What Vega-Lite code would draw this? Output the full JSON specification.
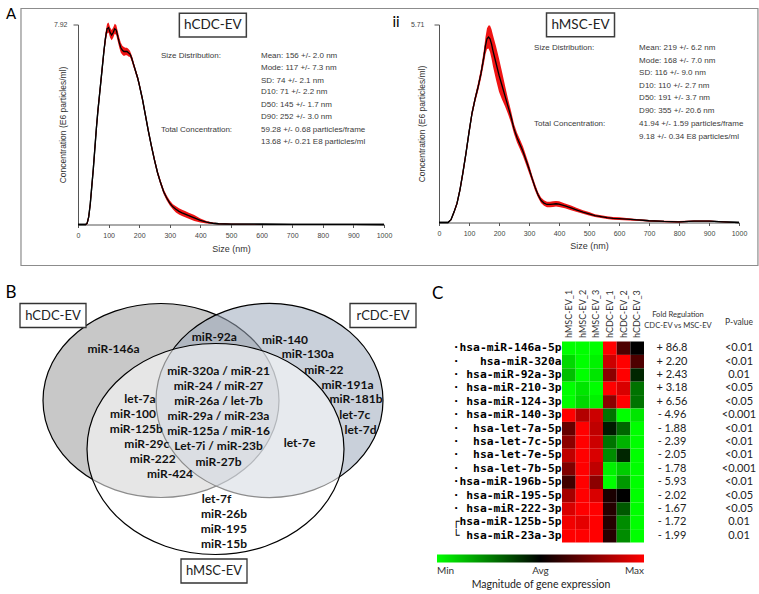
{
 "$schema": "https://vega.github.io/schema/vega-lite/v6.json",
 "background": "white",
 "padding": {"left": 5, "top": 6.5, "right": 0, "bottom": 0},
 "bounds": "flush",
 "spacing": 317,
 "config": {"view": {"stroke": null}, "axis": {"grid": false, "labelOverlap": false, "labelSeparation": 0}},
 "datasets": {
  "hcdc": [
   {"size":0,"conc":0,"lo":0,"hi":0},{"size":20,"conc":0,"lo":0,"hi":0},{"size":25,"conc":0,"lo":0,"hi":0.02},
   {"size":30,"conc":0.05,"lo":0,"hi":0.1},{"size":35,"conc":0.3,"lo":0.2,"hi":0.4},{"size":40,"conc":0.8,"lo":0.68,"hi":0.92},
   {"size":45,"conc":1.5,"lo":1.35,"hi":1.65},{"size":50,"conc":2.2,"lo":2.05,"hi":2.35},{"size":55,"conc":3.0,"lo":2.85,"hi":3.15},
   {"size":60,"conc":3.8,"lo":3.65,"hi":3.95},{"size":65,"conc":4.5,"lo":4.35,"hi":4.65},{"size":70,"conc":5.1,"lo":4.95,"hi":5.25},
   {"size":75,"conc":5.7,"lo":5.55,"hi":5.85},{"size":80,"conc":6.3,"lo":6.15,"hi":6.45},{"size":85,"conc":6.9,"lo":6.75,"hi":7.05},
   {"size":90,"conc":7.4,"lo":7.2,"hi":7.6},{"size":95,"conc":7.75,"lo":7.55,"hi":7.95},{"size":100,"conc":7.8,"lo":7.6,"hi":8.0},
   {"size":105,"conc":7.6,"lo":7.4,"hi":7.8},{"size":110,"conc":7.5,"lo":7.3,"hi":7.7},{"size":115,"conc":7.6,"lo":7.4,"hi":7.8},
   {"size":120,"conc":7.75,"lo":7.55,"hi":7.95},{"size":125,"conc":7.7,"lo":7.5,"hi":7.9},{"size":130,"conc":7.45,"lo":7.25,"hi":7.65},
   {"size":135,"conc":7.2,"lo":7.0,"hi":7.4},{"size":140,"conc":7.0,"lo":6.8,"hi":7.2},{"size":145,"conc":6.9,"lo":6.72,"hi":7.08},
   {"size":150,"conc":6.85,"lo":6.67,"hi":7.03},{"size":155,"conc":6.85,"lo":6.7,"hi":7.0},{"size":160,"conc":6.85,"lo":6.7,"hi":7.0},
   {"size":165,"conc":6.8,"lo":6.65,"hi":6.95},{"size":170,"conc":6.75,"lo":6.63,"hi":6.87},{"size":175,"conc":6.6,"lo":6.48,"hi":6.72},
   {"size":180,"conc":6.4,"lo":6.28,"hi":6.52},{"size":185,"conc":6.2,"lo":6.1,"hi":6.3},{"size":190,"conc":6.0,"lo":5.9,"hi":6.1},
   {"size":195,"conc":5.8,"lo":5.7,"hi":5.9},{"size":200,"conc":5.55,"lo":5.45,"hi":5.65},{"size":210,"conc":5.0,"lo":4.9,"hi":5.1},
   {"size":220,"conc":4.35,"lo":4.25,"hi":4.45},{"size":230,"conc":3.7,"lo":3.6,"hi":3.8},{"size":240,"conc":3.1,"lo":3.0,"hi":3.2},
   {"size":250,"conc":2.55,"lo":2.45,"hi":2.65},{"size":260,"conc":2.05,"lo":1.95,"hi":2.15},{"size":270,"conc":1.65,"lo":1.55,"hi":1.75},
   {"size":280,"conc":1.3,"lo":1.2,"hi":1.4},{"size":290,"conc":1.05,"lo":0.95,"hi":1.15},{"size":300,"conc":0.85,"lo":0.75,"hi":0.95},
   {"size":310,"conc":0.7,"lo":0.6,"hi":0.8},{"size":320,"conc":0.6,"lo":0.48,"hi":0.72},{"size":330,"conc":0.52,"lo":0.4,"hi":0.64},
   {"size":340,"conc":0.46,"lo":0.34,"hi":0.58},{"size":350,"conc":0.41,"lo":0.29,"hi":0.53},{"size":360,"conc":0.36,"lo":0.24,"hi":0.48},
   {"size":370,"conc":0.31,"lo":0.19,"hi":0.43},{"size":380,"conc":0.26,"lo":0.14,"hi":0.38},{"size":390,"conc":0.21,"lo":0.11,"hi":0.31},
   {"size":400,"conc":0.16,"lo":0.08,"hi":0.24},{"size":420,"conc":0.09,"lo":0.04,"hi":0.14},{"size":440,"conc":0.05,"lo":0.02,"hi":0.08},
   {"size":460,"conc":0.03,"lo":0.01,"hi":0.05},{"size":500,"conc":0.015,"lo":0.005,"hi":0.025},{"size":600,"conc":0.01,"lo":0,"hi":0.02},
   {"size":700,"conc":0.005,"lo":0,"hi":0.01},{"size":800,"conc":0.005,"lo":0,"hi":0.01},{"size":900,"conc":0.003,"lo":0,"hi":0.006},
   {"size":1000,"conc":0,"lo":0,"hi":0}
  ],
  "hmsc": [
   {"size":0,"conc":0,"lo":0,"hi":0},{"size":30,"conc":0,"lo":0,"hi":0},{"size":40,"conc":0.08,"lo":0.06,"hi":0.1},
   {"size":50,"conc":0.3,"lo":0.26,"hi":0.34},{"size":60,"conc":0.55,"lo":0.49,"hi":0.61},{"size":70,"conc":0.95,"lo":0.87,"hi":1.03},
   {"size":80,"conc":1.45,"lo":1.35,"hi":1.55},{"size":90,"conc":2.0,"lo":1.9,"hi":2.1},{"size":100,"conc":2.6,"lo":2.5,"hi":2.7},
   {"size":110,"conc":3.15,"lo":3.05,"hi":3.25},{"size":120,"conc":3.55,"lo":3.45,"hi":3.65},{"size":130,"conc":3.9,"lo":3.78,"hi":4.02},
   {"size":140,"conc":4.3,"lo":4.15,"hi":4.45},{"size":150,"conc":4.8,"lo":4.6,"hi":5.0},{"size":155,"conc":5.1,"lo":4.85,"hi":5.35},
   {"size":160,"conc":5.3,"lo":5.0,"hi":5.6},{"size":165,"conc":5.35,"lo":5.02,"hi":5.68},{"size":170,"conc":5.3,"lo":4.92,"hi":5.68},
   {"size":175,"conc":5.15,"lo":4.73,"hi":5.57},{"size":180,"conc":4.95,"lo":4.5,"hi":5.4},{"size":190,"conc":4.6,"lo":4.12,"hi":5.08},
   {"size":200,"conc":4.25,"lo":3.77,"hi":4.73},{"size":210,"conc":3.95,"lo":3.55,"hi":4.35},{"size":220,"conc":3.65,"lo":3.35,"hi":3.95},
   {"size":230,"conc":3.35,"lo":3.13,"hi":3.57},{"size":240,"conc":3.05,"lo":2.88,"hi":3.22},{"size":250,"conc":2.7,"lo":2.56,"hi":2.84},
   {"size":260,"conc":2.45,"lo":2.31,"hi":2.59},{"size":270,"conc":2.25,"lo":2.11,"hi":2.39},{"size":280,"conc":2.05,"lo":1.91,"hi":2.19},
   {"size":290,"conc":1.8,"lo":1.67,"hi":1.93},{"size":300,"conc":1.55,"lo":1.43,"hi":1.67},{"size":310,"conc":1.28,"lo":1.18,"hi":1.38},
   {"size":320,"conc":1.02,"lo":0.92,"hi":1.12},{"size":330,"conc":0.8,"lo":0.72,"hi":0.88},{"size":340,"conc":0.64,"lo":0.56,"hi":0.72},
   {"size":350,"conc":0.56,"lo":0.48,"hi":0.64},{"size":360,"conc":0.52,"lo":0.44,"hi":0.6},{"size":370,"conc":0.52,"lo":0.44,"hi":0.6},
   {"size":380,"conc":0.53,"lo":0.45,"hi":0.61},{"size":390,"conc":0.54,"lo":0.46,"hi":0.62},{"size":400,"conc":0.53,"lo":0.45,"hi":0.61},
   {"size":420,"conc":0.48,"lo":0.41,"hi":0.55},{"size":440,"conc":0.42,"lo":0.35,"hi":0.49},{"size":460,"conc":0.36,"lo":0.3,"hi":0.42},
   {"size":480,"conc":0.3,"lo":0.25,"hi":0.35},{"size":500,"conc":0.25,"lo":0.2,"hi":0.3},{"size":520,"conc":0.2,"lo":0.16,"hi":0.24},
   {"size":540,"conc":0.17,"lo":0.13,"hi":0.21},{"size":560,"conc":0.14,"lo":0.1,"hi":0.18},{"size":580,"conc":0.12,"lo":0.08,"hi":0.16},
   {"size":600,"conc":0.11,"lo":0.07,"hi":0.15},{"size":650,"conc":0.08,"lo":0.05,"hi":0.11},{"size":700,"conc":0.05,"lo":0.03,"hi":0.07},
   {"size":750,"conc":0.03,"lo":0.01,"hi":0.05},{"size":800,"conc":0.02,"lo":0,"hi":0.04},{"size":850,"conc":0.04,"lo":0.02,"hi":0.06},
   {"size":900,"conc":0.04,"lo":0.02,"hi":0.06},{"size":950,"conc":0.02,"lo":0.01,"hi":0.03},{"size":1000,"conc":0,"lo":0,"hi":0}
  ],
  "annoHCDC": [
   {"size":271,"conc":6.69,"label":"Size Distribution:"},
   {"size":598,"conc":6.69,"label":"Mean: 156 +/- 2.0 nm"},
   {"size":598,"conc":6.19,"label":"Mode: 117 +/- 7.3 nm"},
   {"size":598,"conc":5.70,"label":"SD:   74 +/- 2.1 nm"},
   {"size":598,"conc":5.23,"label":"D10:  71 +/- 2.2 nm"},
   {"size":598,"conc":4.72,"label":"D50:   145 +/- 1.7 nm"},
   {"size":598,"conc":4.24,"label":"D90:  252 +/- 3.0 nm"},
   {"size":271,"conc":3.75,"label":"Total Concentration:"},
   {"size":598,"conc":3.75,"label":"59.28 +/- 0.68 particles/frame"},
   {"size":598,"conc":3.26,"label":"13.68 +/- 0.21 E8 particles/ml"}
  ],
  "annoHMSC": [
   {"size":317,"conc":5.04,"label":"Size Distribution:"},
   {"size":667,"conc":5.04,"label":"Mean: 219 +/- 6.2 nm"},
   {"size":667,"conc":4.67,"label":"Mode: 168 +/- 7.0 nm"},
   {"size":667,"conc":4.31,"label":"SD:   116 +/- 9.0 nm"},
   {"size":667,"conc":3.94,"label":"D10:   110 +/- 2.7 nm"},
   {"size":667,"conc":3.58,"label":"D50:   191 +/- 3.7 nm"},
   {"size":667,"conc":3.21,"label":"D90:   355 +/- 20.6 nm"},
   {"size":317,"conc":2.83,"label":"Total Concentration:"},
   {"size":667,"conc":2.83,"label":"41.94 +/- 1.59 particles/frame"},
   {"size":667,"conc":2.46,"label":"9.18 +/- 0.34 E8 particles/ml"}
  ],
  "genes": [
   {"gene":"hsa-miR-146a-5p","fold":"+ 86.8","p":"<0.01","hMSC-EV_1":-1,"hMSC-EV_2":-1,"hMSC-EV_3":-1,"hCDC-EV_1":1,"hCDC-EV_2":0.3,"hCDC-EV_3":0},
   {"gene":"hsa-miR-320a","fold":"+ 2.20","p":"<0.01","hMSC-EV_1":-0.85,"hMSC-EV_2":-1,"hMSC-EV_3":-0.95,"hCDC-EV_1":0.8,"hCDC-EV_2":1,"hCDC-EV_3":0.3},
   {"gene":"hsa-miR-92a-3p","fold":"+ 2.43","p":"0.01","hMSC-EV_1":-0.75,"hMSC-EV_2":-1,"hMSC-EV_3":-0.9,"hCDC-EV_1":0.55,"hCDC-EV_2":1,"hCDC-EV_3":-0.15},
   {"gene":"hsa-miR-210-3p","fold":"+ 3.18","p":"<0.05","hMSC-EV_1":-1,"hMSC-EV_2":-0.9,"hMSC-EV_3":-1,"hCDC-EV_1":1,"hCDC-EV_2":0.85,"hCDC-EV_3":-0.45},
   {"gene":"hsa-miR-124-3p","fold":"+ 6.56","p":"<0.05","hMSC-EV_1":-1,"hMSC-EV_2":-0.85,"hMSC-EV_3":-0.95,"hCDC-EV_1":0.55,"hCDC-EV_2":1,"hCDC-EV_3":-0.45},
   {"gene":"hsa-miR-140-3p","fold":"- 4.96","p":"<0.001","hMSC-EV_1":1,"hMSC-EV_2":0.7,"hMSC-EV_3":0.8,"hCDC-EV_1":-0.45,"hCDC-EV_2":-1,"hCDC-EV_3":-0.9},
   {"gene":"hsa-let-7a-5p","fold":"- 1.88","p":"<0.01","hMSC-EV_1":0.4,"hMSC-EV_2":1,"hMSC-EV_3":0.75,"hCDC-EV_1":-0.1,"hCDC-EV_2":-0.4,"hCDC-EV_3":-1},
   {"gene":"hsa-let-7c-5p","fold":"- 2.39","p":"<0.01","hMSC-EV_1":0.55,"hMSC-EV_2":1,"hMSC-EV_3":0.8,"hCDC-EV_1":-0.45,"hCDC-EV_2":-0.7,"hCDC-EV_3":-1},
   {"gene":"hsa-let-7e-5p","fold":"- 2.05","p":"<0.01","hMSC-EV_1":0.75,"hMSC-EV_2":1,"hMSC-EV_3":0.85,"hCDC-EV_1":-0.55,"hCDC-EV_2":-0.15,"hCDC-EV_3":-1},
   {"gene":"hsa-let-7b-5p","fold":"- 1.78","p":"<0.001","hMSC-EV_1":0.5,"hMSC-EV_2":1,"hMSC-EV_3":0.75,"hCDC-EV_1":-0.95,"hCDC-EV_2":-0.8,"hCDC-EV_3":-1},
   {"gene":"hsa-miR-196b-5p","fold":"- 5.93","p":"<0.01","hMSC-EV_1":0.25,"hMSC-EV_2":1,"hMSC-EV_3":0.55,"hCDC-EV_1":-1,"hCDC-EV_2":-0.6,"hCDC-EV_3":-1},
   {"gene":"hsa-miR-195-5p","fold":"- 2.02","p":"<0.05","hMSC-EV_1":0.65,"hMSC-EV_2":1,"hMSC-EV_3":0.85,"hCDC-EV_1":0.1,"hCDC-EV_2":0,"hCDC-EV_3":-1},
   {"gene":"hsa-miR-222-3p","fold":"- 1.67","p":"<0.05","hMSC-EV_1":0.85,"hMSC-EV_2":1,"hMSC-EV_3":1,"hCDC-EV_1":0.15,"hCDC-EV_2":-0.35,"hCDC-EV_3":-1},
   {"gene":"hsa-miR-125b-5p","fold":"- 1.72","p":"0.01","hMSC-EV_1":0.95,"hMSC-EV_2":0.9,"hMSC-EV_3":1,"hCDC-EV_1":0.15,"hCDC-EV_2":-0.55,"hCDC-EV_3":-1},
   {"gene":"hsa-miR-23a-3p","fold":"- 1.99","p":"0.01","hMSC-EV_1":1,"hMSC-EV_2":1,"hMSC-EV_3":1,"hCDC-EV_1":0.15,"hCDC-EV_2":-0.55,"hCDC-EV_3":-1}
  ],
  "vennSets": [
   {"set":"hCDC-EV","u":160,"v":120},
   {"set":"rCDC-EV","u":268.5,"v":120},
   {"set":"hMSC-EV","u":214.5,"v":168.5}
  ],
  "vennBoxes": [
   {"t":"hCDC-EV","u":52,"v":35},
   {"t":"rCDC-EV","u":382,"v":35},
   {"t":"hMSC-EV","u":213,"v":290.5}
  ],
  "vennLabels": [
   {"t":"miR-146a","u":112.5,"v":68.3},
   {"t":"miR-92a","u":213.3,"v":56.7},
   {"t":"miR-140","u":284,"v":59.3},
   {"t":"miR-130a","u":306.8,"v":73.7},
   {"t":"miR-22","u":322.8,"v":89},
   {"t":"miR-191a","u":346.5,"v":104},
   {"t":"miR-181b","u":355,"v":118.7},
   {"t":"let-7c","u":353.7,"v":134.3},
   {"t":"let-7d","u":359.5,"v":149.3},
   {"t":"miR-320a / miR-21","u":217.5,"v":90},
   {"t":"miR-24 / miR-27","u":217.5,"v":105.3},
   {"t":"miR-26a / let-7b","u":217.5,"v":120},
   {"t":"miR-29a / miR-23a","u":217.5,"v":135.3},
   {"t":"miR-125a / miR-16","u":217.5,"v":150.7},
   {"t":"Let-7i / miR-23b","u":217.5,"v":165.7},
   {"t":"miR-27b","u":217.5,"v":181},
   {"t":"let-7a","u":139,"v":118.3},
   {"t":"miR-100","u":132,"v":133.3},
   {"t":"miR-125b","u":135.3,"v":148.3},
   {"t":"miR-29c","u":145.8,"v":163.7},
   {"t":"miR-222","u":151.7,"v":178.7},
   {"t":"miR-424","u":169,"v":193.7},
   {"t":"let-7e","u":298.5,"v":162.3},
   {"t":"let-7f","u":215.5,"v":218.3},
   {"t":"miR-26b","u":223,"v":233},
   {"t":"miR-195","u":222.8,"v":248},
   {"t":"miR-15b","u":223,"v":263}
  ],
  "panelLetters": [
   {"t":"B","u":10,"v":12.5},
   {"t":"C","u":436.7,"v":13.5}
  ]
 },
 "vconcat": [
  {
   "bounds": "flush",
   "spacing": 55,
   "hconcat": [
    {
     "width": 306,
     "height": 200,
     "encoding": {
      "x": {"field": "size", "type": "quantitative",
       "scale": {"domain": [0, 1000], "nice": false, "zero": false},
       "axis": {"title": "Size (nm)", "values": [0,100,200,300,400,500,600,700,800,900,1000], "tickCount": 11, "format": "d",
        "labelFont": "Liberation Sans", "labelFontSize": 7, "labelColor": "#444", "labelPadding": 4, "labelFlush": false, "labelOverlap": false,
        "tickSize": 3, "tickColor": "#555", "domainColor": "#555",
        "titleFont": "Liberation Sans", "titleFontSize": 9, "titleFontWeight": "normal", "titleColor": "#333", "titlePadding": 6}},
      "y": {"field": "conc", "type": "quantitative",
       "scale": {"domain": [0, 7.92], "nice": false, "zero": false},
       "axis": {"title": "Concentration (E6 particles/ml)", "values": [7.92], "format": ".2f",
        "labelFont": "Liberation Sans", "labelFontSize": 7, "labelColor": "#444", "labelPadding": 6,
        "tickSize": 5, "tickColor": "#555", "domainColor": "#555",
        "titleFont": "Liberation Sans", "titleFontSize": 8.5, "titleFontWeight": "normal", "titleColor": "#333", "titlePadding": -14}}
     },
     "layer": [
      {
       "data": {"name": "hcdc"},
       "mark": {"type": "line", "color": "#000000", "strokeWidth": 1.3}
      },
      {
       "data": {"values": [{"size": -186.3, "size2": 2222, "conc": -1.624, "conc2": 8.554}]},
       "mark": {"type": "rect", "fill": "white", "fillOpacity": 0, "stroke": "#8c8c8c", "strokeWidth": 1.2},
       "encoding": {
        "x2": {"field": "size2"},
        "y2": {"field": "conc2"}
       }
      },
      {
       "data": {"name": "hcdc"},
       "mark": {"type": "area", "color": "#f01414"},
       "encoding": {
        "y": {"field": "lo", "type": "quantitative"},
        "y2": {"field": "hi"}
       }
      },
      {
       "data": {"name": "hcdc"},
       "mark": {"type": "line", "color": "#000000", "strokeWidth": 1.3}
      },
      {
       "data": {"name": "annoHCDC"},
       "mark": {"type": "text", "align": "left", "baseline": "middle", "font": "Liberation Sans", "fontSize": 8, "color": "#3a3a3a"},
       "encoding": {"text": {"field": "label"}}
      },
      {
       "data": {"values": [{"label": "hCDC-EV", "size": 440.7, "conc": 7.895}]},
       "mark": {"type": "point", "shape": "M-1,-0.358H1V0.358H-1Z", "size": 4489, "filled": true, "fill": "white", "stroke": "#3d3d3d", "strokeWidth": 1.5, "opacity": 1}
      },
      {
       "data": {"values": [{"label": "hCDC-EV", "size": 440.7, "conc": 7.895}]},
       "mark": {"type": "text", "font": "Lato", "fontSize": 13.5, "color": "#222", "baseline": "middle"},
       "encoding": {"text": {"field": "label"}}
      },
      {
       "data": {"values": [{"label": "A", "size": -235.3, "conc": 8.613}]},
       "mark": {"type": "text", "font": "Lato", "fontSize": 15, "color": "#000", "align": "left", "baseline": "top"},
       "encoding": {"text": {"field": "label"}}
      }
     ]
    },
    {
     "width": 300,
     "height": 198,
     "encoding": {
      "x": {"field": "size", "type": "quantitative",
       "scale": {"domain": [0, 1000], "nice": false, "zero": false},
       "axis": {"title": "Size (nm)", "values": [0,100,200,300,400,500,600,700,800,900,1000], "tickCount": 11, "format": "d",
        "labelFont": "Liberation Sans", "labelFontSize": 7, "labelColor": "#444", "labelPadding": 4, "labelFlush": false, "labelOverlap": false,
        "tickSize": 3, "tickColor": "#555", "domainColor": "#555",
        "titleFont": "Liberation Sans", "titleFontSize": 9, "titleFontWeight": "normal", "titleColor": "#333", "titlePadding": 5}},
      "y": {"field": "conc", "type": "quantitative",
       "scale": {"domain": [0, 5.71], "nice": false, "zero": false},
       "axis": {"title": "Concentration (E6 particles/ml)", "values": [5.71], "format": ".2f",
        "labelFont": "Liberation Sans", "labelFontSize": 7, "labelColor": "#444", "labelPadding": 10,
        "tickSize": 5, "tickColor": "#555", "domainColor": "#555",
        "titleFont": "Liberation Sans", "titleFontSize": 8.5, "titleFontWeight": "normal", "titleColor": "#333", "titlePadding": -16}}
     },
     "layer": [
      {
       "data": {"name": "hmsc"},
       "mark": {"type": "line", "color": "#000000", "strokeWidth": 1.3}
      },
      {
       "data": {"name": "hmsc"},
       "mark": {"type": "area", "color": "#f01414"},
       "encoding": {
        "y": {"field": "lo", "type": "quantitative"},
        "y2": {"field": "hi"}
       }
      },
      {
       "data": {"name": "hmsc"},
       "mark": {"type": "line", "color": "#000000", "strokeWidth": 1.3}
      },
      {
       "data": {"name": "annoHMSC"},
       "mark": {"type": "text", "align": "left", "baseline": "middle", "font": "Liberation Sans", "fontSize": 8, "color": "#3a3a3a"},
       "encoding": {"text": {"field": "label"}}
      },
      {
       "data": {"values": [{"label": "hMSC-EV", "size": 471.7, "conc": 5.70}]},
       "mark": {"type": "point", "shape": "M-1,-0.348H1V0.348H-1Z", "size": 4624, "filled": true, "fill": "white", "stroke": "#3d3d3d", "strokeWidth": 1.5, "opacity": 1}
      },
      {
       "data": {"values": [{"label": "hMSC-EV", "size": 471.7, "conc": 5.70}]},
       "mark": {"type": "text", "font": "Lato", "fontSize": 13.5, "color": "#222", "baseline": "middle"},
       "encoding": {"text": {"field": "label"}}
      },
      {
       "data": {"values": [{"label": "ii", "size": -143, "conc": 5.77}]},
       "mark": {"type": "text", "font": "Lato", "fontSize": 15, "color": "#000", "baseline": "middle"},
       "encoding": {"text": {"field": "label"}}
      }
     ]
    }
   ]
  },
  {
   "bounds": "flush",
   "spacing": 4,
   "hconcat": [
    {
     "width": 480,
     "height": 201,
     "encoding": {
      "x": {"field": "u", "type": "quantitative", "scale": {"domain": [77, 557], "nice": false, "zero": false}, "axis": null},
      "y": {"field": "v", "type": "quantitative", "scale": {"domain": [61, 262], "nice": false, "zero": false, "reverse": true}, "axis": null}
     },
     "layer": [
      {
       "data": {"name": "vennSets"},
       "transform": [{"filter": "datum.set == 'hCDC-EV'"}],
       "mark": {"type": "point", "shape": "M1,0C1,0.454 0.552,0.822 0,0.822C-0.552,0.822 -1,0.454 -1,0C-1,-0.454 -0.552,-0.822 0,-0.822C0.552,-0.822 1,-0.454 1,0Z", "size": 55696, "filled": true, "fill": "#c8c8c8", "stroke": "#000", "strokeWidth": 1.2, "opacity": 1}
      },
      {
       "data": {"name": "vennSets"},
       "transform": [{"filter": "datum.set == 'rCDC-EV'"}],
       "mark": {"type": "point", "shape": "M1,0C1,0.472 0.552,0.855 0,0.855C-0.552,0.855 -1,0.472 -1,0C-1,-0.472 -0.552,-0.855 0,-0.855C0.552,-0.855 1,-0.472 1,0Z", "size": 51529, "filled": true, "fill": "#9daabb", "fillOpacity": 0.55, "stroke": "#000", "strokeOpacity": 1, "strokeWidth": 1.2, "opacity": 1}
      },
      {
       "data": {"name": "vennSets"},
       "transform": [{"filter": "datum.set == 'hMSC-EV'"}],
       "mark": {"type": "point", "shape": "M1,0C1,0.453 0.552,0.821 0,0.821C-0.552,0.821 -1,0.453 -1,0C-1,-0.453 -0.552,-0.821 0,-0.821C0.552,-0.821 1,-0.453 1,0Z", "size": 66049, "filled": true, "fill": "#ffffff", "fillOpacity": 0.55, "stroke": "#000", "strokeOpacity": 1, "strokeWidth": 1.2, "opacity": 1}
      },
      {
       "data": {"name": "vennBoxes"},
       "mark": {"type": "point", "shape": "M-1,-0.364H1V0.364H-1Z", "size": 4356, "filled": true, "fill": "white", "stroke": "#333", "strokeWidth": 1.3, "opacity": 1}
      },
      {
       "data": {"name": "vennBoxes"},
       "mark": {"type": "text", "font": "Lato", "fontSize": 13, "color": "#222", "baseline": "middle"},
       "encoding": {"text": {"field": "t"}}
      },
      {
       "data": {"name": "vennLabels"},
       "mark": {"type": "text", "font": "Lato", "fontSize": 12, "fontWeight": "bold", "color": "#111", "baseline": "middle"},
       "encoding": {"text": {"field": "t"}}
      },
      {
       "data": {"name": "panelLetters"},
       "mark": {"type": "text", "font": "Lato", "fontSize": 17, "color": "#000", "baseline": "middle"},
       "encoding": {"text": {"field": "t"}}
      }
     ]
    },
    {
     "width": 82,
     "height": 201,
     "data": {"name": "genes"},
     "transform": [{"fold": ["hMSC-EV_1","hMSC-EV_2","hMSC-EV_3","hCDC-EV_1","hCDC-EV_2","hCDC-EV_3"], "as": ["sample", "value"]}],
     "mark": {"type": "rect"},
     "encoding": {
      "x": {"field": "sample", "type": "nominal",
       "sort": ["hMSC-EV_1","hMSC-EV_2","hMSC-EV_3","hCDC-EV_1","hCDC-EV_2","hCDC-EV_3"],
       "scale": {"paddingInner": 0, "paddingOuter": 0},
       "axis": {"orient": "top", "title": null, "labelAngle": -90, "domain": false, "ticks": false, "labelPadding": 4,
        "labelFont": "Lato", "labelFontSize": 9, "labelColor": "#333"}},
      "y": {"field": "gene", "type": "nominal",
       "sort": ["hsa-miR-146a-5p","hsa-miR-320a","hsa-miR-92a-3p","hsa-miR-210-3p","hsa-miR-124-3p","hsa-miR-140-3p","hsa-let-7a-5p","hsa-let-7c-5p","hsa-let-7e-5p","hsa-let-7b-5p","hsa-miR-196b-5p","hsa-miR-195-5p","hsa-miR-222-3p","hsa-miR-125b-5p","hsa-miR-23a-3p"],
       "scale": {"paddingInner": 0, "paddingOuter": 0},
       "axis": {"title": null, "domain": false, "ticks": false, "labelPadding": 1, "labelLimit": 300,
        "labelExpr": "(datum.value == 'hsa-miR-125b-5p' ? '┌' : (datum.value == 'hsa-miR-23a-3p' ? '└' : '·')) + pad(datum.label, 15, '\u00a0', 'left')",
        "labelFont": "DejaVu Sans Mono", "labelFontWeight": "bold", "labelFontSize": 11.3, "labelColor": "#000"}},
      "color": {"field": "value", "type": "quantitative",
       "scale": {"domain": [-1, 0, 1], "range": ["#00ff00", "#000000", "#ff0000"], "interpolate": "rgb"},
       "legend": {"orient": "none", "legendX": 359, "legendY": 530, "direction": "horizontal",
        "gradientLength": 207, "gradientThickness": 8, "values": [-1, 0, 1],
        "labelExpr": "datum.value < -0.5 ? 'Min' : (datum.value > 0.5 ? 'Max' : 'Avg')",
        "labelAlign": "center", "labelFont": "Lato", "labelFontSize": 10, "labelColor": "#333", "labelOffset": 3,
        "title": "Magnitude of gene expression", "titleOrient": "bottom", "titleAnchor": "middle",
        "titleFont": "Lato", "titleFontSize": 10.5, "titleFontWeight": "normal", "titleColor": "#222", "titlePadding": 4, "padding": 0}}
     }
    },
    {
     "width": 48,
     "height": 201,
     "data": {"name": "genes"},
     "title": {"text": ["Fold Regulation", "CDC-EV vs MSC-EV"], "font": "Lato", "fontSize": 7.6, "fontWeight": "normal", "color": "#333", "offset": 12, "lineHeight": 10.5, "frame": "group", "anchor": "middle", "dx": 6},
     "mark": {"type": "text", "font": "Lato", "fontSize": 11, "color": "#222"},
     "encoding": {
      "y": {"field": "gene", "type": "nominal",
       "sort": ["hsa-miR-146a-5p","hsa-miR-320a","hsa-miR-92a-3p","hsa-miR-210-3p","hsa-miR-124-3p","hsa-miR-140-3p","hsa-let-7a-5p","hsa-let-7c-5p","hsa-let-7e-5p","hsa-let-7b-5p","hsa-miR-196b-5p","hsa-miR-195-5p","hsa-miR-222-3p","hsa-miR-125b-5p","hsa-miR-23a-3p"],
       "scale": {"paddingInner": 0, "paddingOuter": 0}, "axis": null},
      "text": {"field": "fold"}
     }
    },
    {
     "width": 78,
     "height": 201,
     "data": {"name": "genes"},
     "title": {"text": "P-value", "font": "Lato", "fontSize": 8.5, "fontWeight": "normal", "color": "#333", "offset": 15, "frame": "group", "anchor": "middle"},
     "mark": {"type": "text", "font": "Lato", "fontSize": 11, "color": "#222"},
     "encoding": {
      "y": {"field": "gene", "type": "nominal",
       "sort": ["hsa-miR-146a-5p","hsa-miR-320a","hsa-miR-92a-3p","hsa-miR-210-3p","hsa-miR-124-3p","hsa-miR-140-3p","hsa-let-7a-5p","hsa-let-7c-5p","hsa-let-7e-5p","hsa-let-7b-5p","hsa-miR-196b-5p","hsa-miR-195-5p","hsa-miR-222-3p","hsa-miR-125b-5p","hsa-miR-23a-3p"],
       "scale": {"paddingInner": 0, "paddingOuter": 0}, "axis": null},
      "text": {"field": "p"}
     }
    }
   ]
  }
 ]
}
